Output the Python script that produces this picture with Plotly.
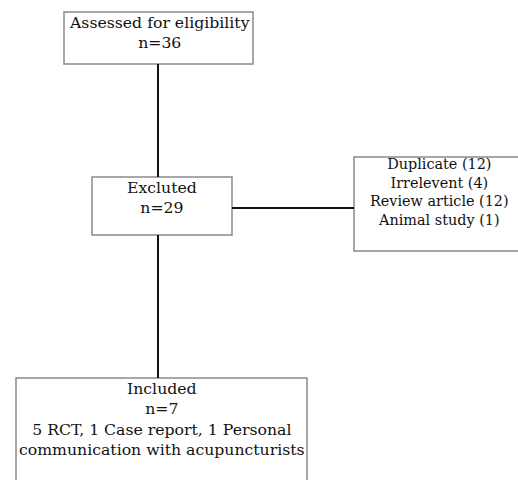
import plotly.graph_objects as go

# ---- data ----
stage_titles = ["Assessed for eligibility", "Excluted", "Included"]
stage_counts = [36, 29, 7]
included_detail = ["5 RCT, 1 Case report, 1 Personal", "communication with acupuncturists"]
excluded_reasons = ["Duplicate", "Irrelevent", "Review article", "Animal study"]
excluded_counts = [12, 4, 12, 1]

# ---- layout geometry (screen pixels, y downward) ----
W, H = 518, 480
boxes = {
    "assess": (64, 12, 253, 64),
    "excl": (92, 177, 232, 235),
    "reasons": (354, 157, 540, 251),
    "incl": (16, 378, 307, 500),
}
FONT_MAIN = dict(family="DejaVu Serif", size=15.7, color="#111111")
FONT_SIDE = dict(family="DejaVu Serif", size=14.4, color="#111111")

fig = go.Figure()
shapes = []
for (x0, y0, x1, y1) in boxes.values():
    shapes.append(dict(type="rect", xref="x", yref="y", x0=x0, y0=y0, x1=x1, y1=y1,
                       line=dict(color="#8a8a8a", width=1.5), fillcolor="rgba(0,0,0,0)"))
connectors = [
    (158, 64, 158, 177),
    (158, 235, 158, 378),
    (232, 208, 354, 208),
]
for (x0, y0, x1, y1) in connectors:
    shapes.append(dict(type="line", xref="x", yref="y", x0=x0, y0=y0, x1=x1, y1=y1,
                       line=dict(color="#111111", width=2)))

texts = [
    (159, 32, f"{stage_titles[0]}<br>n={stage_counts[0]}", FONT_MAIN),
    (162, 197, f"{stage_titles[1]}<br>n={stage_counts[1]}", FONT_MAIN),
    (439, 192, "<br>".join(f"{r} ({c})" for r, c in zip(excluded_reasons, excluded_counts)), FONT_SIDE),
    (162, 419, f"{stage_titles[2]}<br>n={stage_counts[2]}<br>" + "<br>".join(included_detail), FONT_MAIN),
]
annotations = [dict(x=x, y=y, xref="x", yref="y", text=t, showarrow=False, font=f,
                    align="center", xanchor="center", yanchor="middle") for x, y, t, f in texts]

fig.update_layout(
    width=W, height=H, margin=dict(l=0, r=0, t=0, b=0),
    paper_bgcolor="white", plot_bgcolor="white",
    xaxis=dict(range=[0, W], visible=False, fixedrange=True),
    yaxis=dict(range=[H, 0], visible=False, fixedrange=True),
    shapes=shapes, annotations=annotations, showlegend=False,
)
fig.write_html(
    "out.html",
    config={"displayModeBar": False},
    post_script="document.body.style.margin='0';document.body.style.overflow='hidden';",
)
